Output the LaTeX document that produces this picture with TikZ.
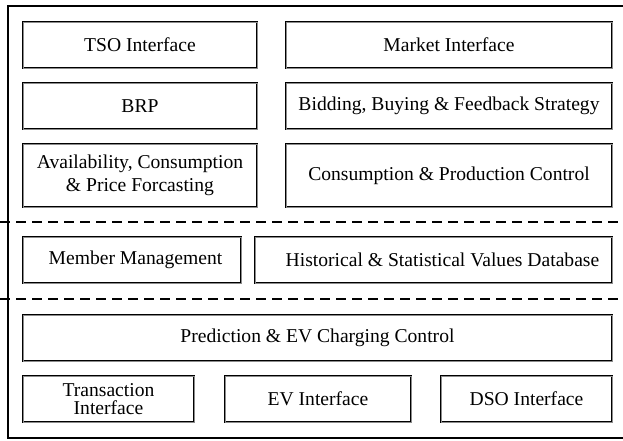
\documentclass[tikz,border=0pt]{standalone}
\usepackage{fontspec}
\setmainfont{Liberation Serif}
\usetikzlibrary{positioning}

\begin{document}
\begin{tikzpicture}[x=1pt, y=-1pt,
    block/.style={draw, line width=1pt, double=black!45, double distance=0.8pt, minimum height=46pt, align=center, inner sep=0, font=\fontsize{19.6}{23}\selectfont},
    layer/.style={line width=1.4pt, dash pattern=on 10pt off 6pt}]
        % Canvas
        \useasboundingbox (0,0) rectangle (623,440);
        \clip (0,0) rectangle (623,440);
        \draw[line width=1.8pt] (640,6) -- (8,6) -- (8,438) -- (640,438);

        % Top layer
        \node[block, minimum width=234pt] (tso_if) at (140,45) {TSO Interface};
        \node[block, minimum width=326pt] (market_if) at (449,45) {Market Interface};
        \node[block, minimum width=234pt] (brp) at (140,106) {BRP};
        \node[block, minimum width=326pt] (bid_strat) at (449,106) {Bidding, Buying \& Feedback Strategy};
        \node[block, minimum width=234pt, minimum height=63pt] (avail_fc) at (140,175.5) {Availability, Consumption\\\& Price Forcasting};
        \node[block, minimum width=326pt, minimum height=63pt] (cons_ctrl) at (449,175.5) {Consumption \& Production Control};

        \draw[layer] (0,222) -- (623,222);

        % Middle layer
        \node[block, minimum width=218pt] (member_mgmt) at (132,260) {\hspace{7pt}Member Management};
        \node[block, minimum width=357pt] (hist_db) at (433.5,260) {\hspace{18pt}Historical \& Statistical Values Database};

        \draw[layer] (0,299) -- (623,299);

        % Bottom layer
        \node[block, minimum width=589pt] (pred_ev) at (317.5,338) {Prediction \& EV Charging Control};
        \node[block, minimum width=171pt, font=\fontsize{19.6}{18}\selectfont] (trans_if) at (108.5,399) {Transaction\\Interface};
        \node[block, minimum width=186pt] (ev_if) at (318,399) {EV Interface};
        \node[block, minimum width=171pt] (dso_if) at (526.5,399) {DSO Interface};
      \end{tikzpicture}
\end{document}
